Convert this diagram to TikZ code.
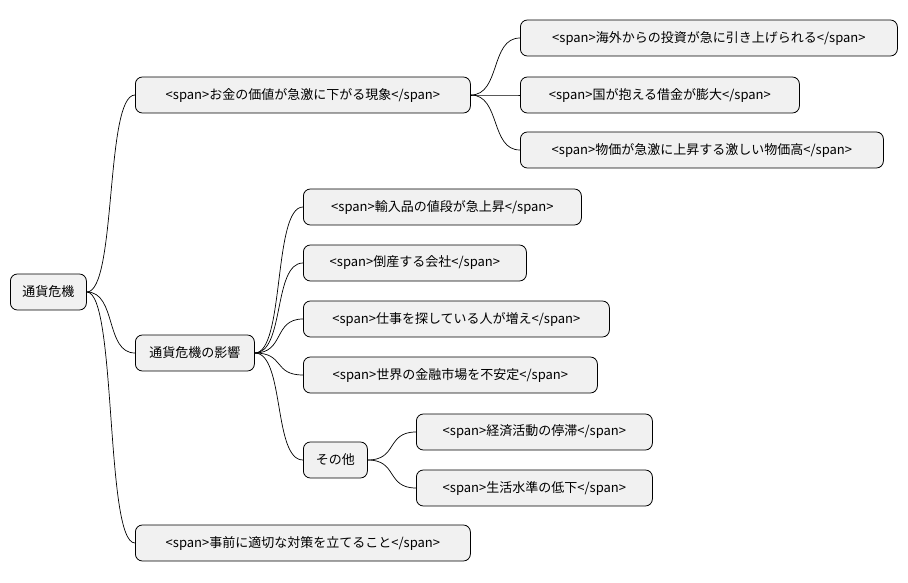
\documentclass[tikz,border=0pt]{standalone}
\usepackage{fontspec}
\setmainfont{Noto Sans CJK JP}
\begin{document}
\begin{tikzpicture}[x=1pt,y=-1pt,
  box/.style={draw=black,fill={rgb,255:red,241;green,241;blue,241},rounded corners=7pt,line width=0.8pt,
    anchor=west,minimum height=36pt,inner xsep=0pt,font=\fontsize{13}{15}\selectfont},
  edge/.style={line width=0.7pt}]
\useasboundingbox (0,0) rectangle (908,583);
\newcommand{\bx}[5]{\node[box,minimum width=#4pt] (#1) at (#2,#3) {#5};}
\bx{r}{10}{292}{76}{通貨危機}
\bx{a}{135}{95}{335}{<span>お金の価値が急激に下がる現象</span>}
\bx{a1}{520}{38}{377}{<span>海外からの投資が急に引き上げられる</span>}
\bx{a2}{520}{95}{279}{<span>国が抱える借金が膨大</span>}
\bx{a3}{520}{150}{363}{<span>物価が急激に上昇する激しい物価高</span>}
\bx{b}{135}{353}{119}{通貨危機の影響}
\bx{b1}{303}{207}{278}{<span>輸入品の値段が急上昇</span>}
\bx{b2}{303}{263}{223}{<span>倒産する会社</span>}
\bx{b3}{303}{319}{306}{<span>仕事を探している人が増え</span>}
\bx{b4}{303}{375}{294}{<span>世界の金融市場を不安定</span>}
\bx{b5}{303}{460}{64}{その他}
\bx{c1}{416}{432}{236}{<span>経済活動の停滞</span>}
\bx{c2}{416}{488}{236}{<span>生活水準の低下</span>}
\bx{c}{135}{543}{335}{<span>事前に適切な対策を立てること</span>}
\foreach \p/\c in {r/a,r/b,r/c,a/a1,a/a2,a/a3,b/b1,b/b2,b/b3,b/b4,b/b5,b5/c1,b5/c2}
  \draw[edge] (\p.east) .. controls ([xshift=30pt]\p.east) and ([xshift=-30pt]\c.west) .. (\c.west);
\end{tikzpicture}
\end{document}
